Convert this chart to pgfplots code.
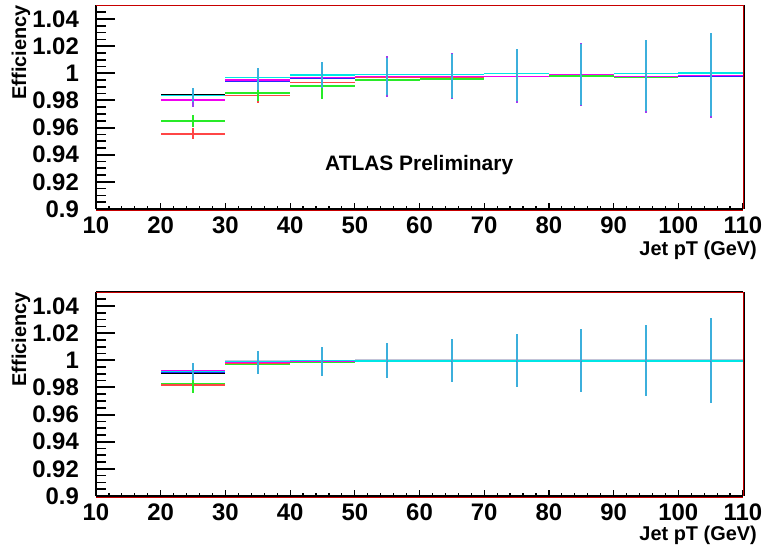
\documentclass[border=0pt]{standalone}
\usepackage{pgfplots}
\usepackage{pgfplotstable}
\pgfplotsset{compat=1.18}
\usepackage{fontspec}
\setmainfont{Liberation Sans}

\definecolor{cyn}{RGB}{0,230,230}
\definecolor{mag}{RGB}{240,0,240}
\definecolor{vio}{RGB}{160,60,240}
\definecolor{blu}{RGB}{40,40,255}
\definecolor{grn}{RGB}{40,235,40}
\definecolor{rd}{RGB}{255,70,70}
\definecolor{gry}{RGB}{195,195,215}
\definecolor{errc}{RGB}{60,175,220}
\definecolor{frm}{RGB}{200,0,0}

% top panel lines
\pgfplotstableread{
x   blk    cyn    blu    vio    mag    grn    red
25  0.9845 0.9836 0.9803 0.9807 0.9805 0.9650 0.9554
35  0.9968 0.9968 0.9945 0.9949 0.9950 0.9855 0.9838
45  0.9988 0.9988 0.9966 0.9968 0.9968 0.9907 0.9934
55  0.9993 0.9993 0.9975 0.9976 0.9976 0.9950 0.9970
65  0.9993 0.9993 0.9977 0.9978 0.9978 0.9958 0.9973
75  0.9997 0.9997 0.9977 0.9978 0.9978 0.9975 0.9975
85  0.9990 0.9990 0.9991 0.9992 0.9992 0.9981 0.9985
95  0.9997 0.9997 0.9977 0.9978 0.9978 0.9968 0.9975
105 1.0002 1.0002 0.9981 0.9983 0.9983 0.9978 0.9980
}\topdata
% top panel error bars
\pgfplotstableread{
x   y      em     ep
25  0.9836 0.0051 0.0059
35  0.9968 0.0093 0.0074
45  0.9988 0.0095 0.0095
55  0.9993 0.0155 0.0122
65  0.9993 0.0172 0.0147
75  0.9997 0.0200 0.0184
85  0.9990 0.0220 0.0228
95  0.9997 0.0275 0.0251
105 1.0002 0.0313 0.0297
}\toperr
\pgfplotstableread{
x   y      e
25  0.9806 0.0054
55  0.9976 0.0150
65  0.9978 0.0169
75  0.9978 0.0194
85  0.9992 0.0235
95  0.9978 0.0270
105 0.9983 0.0309
}\topverr
\pgfplotstableread{
x   y      e
25  0.9650 0.0045
35  0.9855 0.0060
45  0.9907 0.0095
}\topgerr
\pgfplotstableread{
x   y      e
25  0.9554 0.0041
35  0.9838 0.0060
}\topreerr

% bottom panel lines
\pgfplotstableread{
x   gry    red    grn    blk    blu    mag    cyn
25  0.9920 0.9818 0.9828 0.9906 0.9910 0.9924 0.9916
35  0.9994 0.9972 0.9968 0.9985 0.9985 0.9983 0.9992
45  0.9998 0.9990 0.9983 0.9995 0.9995 0.9994 0.9997
55  1.0004 0.9993 0.9995 0.9995 0.9995 0.9995 0.9995
65  1.0004 0.9993 0.9991 0.9995 0.9995 0.9995 0.9995
75  1.0004 0.9993 0.9995 0.9995 0.9995 0.9995 0.9995
85  1.0004 0.9993 0.9995 0.9995 0.9995 0.9995 0.9995
95  1.0004 0.9993 0.9991 0.9995 0.9995 0.9995 0.9995
105 1.0004 0.9993 0.9995 0.9995 0.9995 0.9995 0.9995
}\botdata
\pgfplotstableread{
x   y      em     ep
25  0.9916 0.0064 0.0062
35  0.9992 0.0095 0.0077
45  0.9997 0.0110 0.0101
55  0.9995 0.0128 0.0130
65  0.9995 0.0155 0.0162
75  0.9995 0.0189 0.0196
85  0.9995 0.0226 0.0233
95  0.9995 0.0258 0.0265
105 0.9995 0.0307 0.0319
}\boterr
\pgfplotstableread{
x   y      em     ep
25  0.9828 0.0067 0.0060
}\botgerr

\pgfplotsset{
  hseg/.style={only marks, mark=*, mark size=0pt, mark options={draw=none, fill=none}, forget plot,
    error bars/.cd, x dir=both, x fixed=5, error mark=none,
    error bar style={line width=1.5bp, color=#1}},
  vseg/.style={only marks, mark=*, mark size=0pt, mark options={draw=none, fill=none}, forget plot,
    error bars/.cd, y dir=both, y explicit, error mark=none,
    error bar style={line width=2bp, color=#1}},
  rootax/.style={
    scale only axis, width=647bp, height=203.5bp, anchor=south west,
    xmin=10, xmax=110, ymin=0.9, ymax=1.05, clip=false,
    axis x line*=bottom, axis y line*=left,
    tick pos=left, tick align=inside,
    xtick={10,20,30,40,50,60,70,80,90,100,110},
    xticklabels={10,20,30,40,50,60,70,80,90,100,110},
    minor xtick={12,14,16,18,22,24,26,28,32,34,36,38,42,44,46,48,52,54,56,58,62,64,66,68,72,74,76,78,82,84,86,88,92,94,96,98,102,104,106,108},
    ytick={0.9,0.92,0.94,0.96,0.98,1,1.02,1.04},
    yticklabels={0.9,0.92,0.94,0.96,0.98,1,1.02,1.04},
    minor ytick={0.905,0.91,0.915,0.925,0.93,0.935,0.945,0.95,0.955,0.965,0.97,0.975,0.985,0.99,0.995,1.005,1.01,1.015,1.025,1.03,1.035,1.045},
    major x tick style={/pgfplots/major tick length=6bp, line width=1.2bp, black},
    minor x tick style={/pgfplots/minor tick length=3bp, line width=1.2bp, black},
    major y tick style={/pgfplots/major tick length=19bp, line width=2bp, black},
    minor y tick style={/pgfplots/minor tick length=10bp, line width=1.6bp, black},
    axis line style={line width=1.5bp, black, -},
    xticklabel style={font=\bfseries\fontsize{24}{24}\selectfont, inner sep=0pt, anchor=north, yshift=-8bp},
    yticklabel style={font=\bfseries\fontsize{24}{24}\selectfont, inner sep=0pt, anchor=east, xshift=-17bp},
  }
}

\begin{document}
\begin{tikzpicture}
\useasboundingbox (0,0) rectangle (767bp,545bp);

\begin{axis}[rootax, at={(96bp,336bp)}]
  \addplot[hseg=rd]  table[x=x,y=red] {\topdata};
  \addplot[hseg=grn] table[x=x,y=grn] {\topdata};
  \addplot[hseg=blu] table[x=x,y=blu] {\topdata};
  \addplot[hseg=black] table[x=x,y=blk] {\topdata};
  \addplot[hseg=cyn] table[x=x,y=cyn] {\topdata};
  \addplot[hseg=vio] table[x=x,y=vio] {\topdata};
  \addplot[hseg=mag] table[x=x,y=mag] {\topdata};
  \addplot[vseg=rd]  table[x=x,y=y,y error=e] {\topreerr};
  \addplot[vseg=grn] table[x=x,y=y,y error=e] {\topgerr};
  \addplot[vseg=vio] table[x=x,y=y,y error=e] {\topverr};
  \addplot[vseg=errc] table[x=x,y=y,y error minus=em,y error plus=ep] {\toperr};
  \draw[black, line width=0.6bp] ([xshift=0.8bp]rel axis cs:1,1) -- ([xshift=0.8bp]rel axis cs:1,0);
  \draw[frm, line width=0.9bp] (rel axis cs:0,1) -- (rel axis cs:1,1) -- (rel axis cs:1,0);
  \draw[frm, line width=0.7bp] ([yshift=-1bp]rel axis cs:0,0) -- ([yshift=-1bp]rel axis cs:1,0);
\end{axis}

\begin{axis}[rootax, at={(96bp,49bp)}]
  \addplot[hseg=gry] table[x=x,y=gry] {\botdata};
  \addplot[hseg=rd]  table[x=x,y=red] {\botdata};
  \addplot[hseg=grn] table[x=x,y=grn] {\botdata};
  \addplot[hseg=black] table[x=x,y=blk] {\botdata};
  \addplot[hseg=blu] table[x=x,y=blu] {\botdata};
  \addplot[hseg=mag] table[x=x,y=mag] {\botdata};
  \addplot[hseg=cyn] table[x=x,y=cyn] {\botdata};
  \addplot[vseg=grn] table[x=x,y=y,y error minus=em,y error plus=ep] {\botgerr};
  \addplot[vseg=errc] table[x=x,y=y,y error minus=em,y error plus=ep] {\boterr};
  \draw[black, line width=0.6bp] ([yshift=0.8bp]rel axis cs:0,1) -- ([yshift=0.8bp]rel axis cs:1,1);
  \draw[black, line width=0.6bp] ([xshift=0.8bp]rel axis cs:1,1) -- ([xshift=0.8bp]rel axis cs:1,0);
  \draw[frm, line width=0.9bp] (rel axis cs:0,1) -- (rel axis cs:1,1) -- (rel axis cs:1,0);
  \draw[frm, line width=0.7bp] ([yshift=-1bp]rel axis cs:0,0) -- ([yshift=-1bp]rel axis cs:1,0);
\end{axis}

\node[rotate=90, anchor=base east, inner sep=0pt, font=\bfseries\fontsize{20}{20}\selectfont] at (26bp,540bp) {Efficiency};
\node[rotate=90, anchor=base east, inner sep=0pt, font=\bfseries\fontsize{20}{20}\selectfont] at (26bp,253bp) {Efficiency};
\node[anchor=base east, inner sep=0pt, font=\bfseries\fontsize{20}{20}\selectfont] at (757bp,289bp) {Jet pT (GeV)};
\node[anchor=base east, inner sep=0pt, font=\bfseries\fontsize{20}{20}\selectfont] at (757bp,4.5bp) {Jet pT (GeV)};
\node[anchor=base west, inner sep=0pt, font=\bfseries\fontsize{21}{21}\selectfont] at (325bp,374bp) {ATLAS Preliminary};
\end{tikzpicture}
\end{document}
